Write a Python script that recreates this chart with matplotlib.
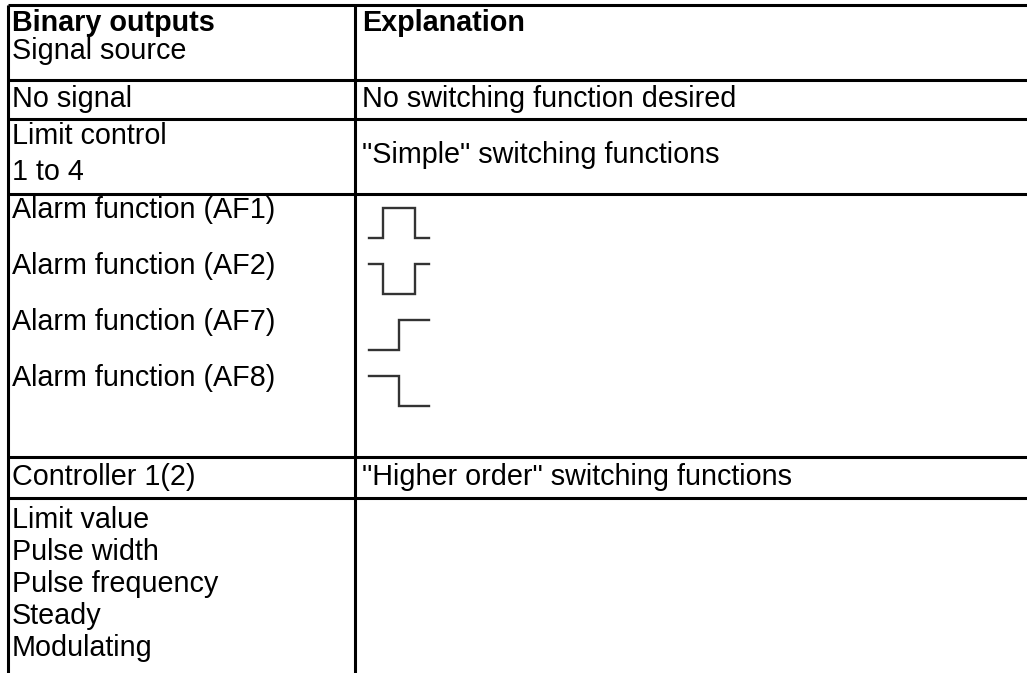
import matplotlib
matplotlib.use("Agg")
import matplotlib.pyplot as plt

# ---- data ----
header_left = ["Binary outputs", "Signal source"]
header_right = "Explanation"
row_no_signal = "No signal"
expl_no_signal = "No switching function desired"
row_limit = ["Limit control", "1 to 4"]
expl_limit = '"Simple" switching functions'
alarm_labels = ["Alarm function (AF1)", "Alarm function (AF2)",
                "Alarm function (AF7)", "Alarm function (AF8)"]
alarm_levels = [[0, 1, 0], [1, 0, 1], [0, 1], [1, 0]]
row_controller = "Controller 1(2)"
expl_controller = '"Higher order" switching functions'
controller_modes = ["Limit value", "Pulse width", "Pulse frequency",
                    "Steady", "Modulating"]

# ---- layout ----
W, H = 1027, 673
fig = plt.figure(figsize=(W / 100, H / 100), dpi=100)
ax = fig.add_axes([0, 0, 1, 1])
ax.set_xlim(0, W)
ax.set_ylim(H, 0)
ax.axis("off")

plt.rcParams['font.family'] = ['Liberation Sans', 'DejaVu Sans']
FS = 20.7
lw = 2.2
x_left, x_mid, x_right = 8, 355, W
y_top = 4.5
h_lines = [80, 119, 194, 457, 498]

ax.plot([x_left, x_right], [y_top, y_top], color="black", lw=lw, solid_capstyle="butt")
for y in h_lines:
    ax.plot([x_left, x_right], [y, y], color="black", lw=lw, solid_capstyle="butt")
ax.plot([x_left, x_left], [y_top, H], color="black", lw=lw, solid_capstyle="butt")
ax.plot([x_mid, x_mid], [y_top, H], color="black", lw=lw, solid_capstyle="butt")

tx_l, tx_r = 12, 362

def txt(x, y, s, bold=False):
    ax.text(x, y, s, fontsize=FS, va="baseline", ha="left",
            fontweight="bold" if bold else "normal", color="black")

# header
txt(tx_l, 31, header_left[0], bold=True)
txt(tx_l, 59, header_left[1])
txt(tx_r, 31, header_right, bold=True)

# no signal
txt(tx_l, 107, row_no_signal)
txt(tx_r, 107, expl_no_signal)

# limit control
txt(tx_l, 144, row_limit[0])
txt(tx_l, 180, row_limit[1])
txt(tx_r, 163, expl_limit)

# alarm functions
y0, dy = 218, 56
wx0, wx1 = 369, 429
amp = 30
for i, (lab, lev) in enumerate(zip(alarm_labels, alarm_levels)):
    yb = y0 + i * dy
    txt(tx_l, yb, lab)
    low = yb + 20
    n = len(lev)
    if n == 3:
        edges = [0, 0.24, 0.76, 1]
    else:
        edges = [0, 0.5, 1]
    xs, ys = [], []
    for k, v in enumerate(lev):
        xa = wx0 + edges[k] * (wx1 - wx0)
        xb = wx0 + edges[k + 1] * (wx1 - wx0)
        yy = low - v * amp
        xs += [xa, xb]
        ys += [yy, yy]
    ax.plot(xs, ys, color="#333333", lw=1.7, solid_joinstyle="miter")

# controller
txt(tx_l, 485, row_controller)
txt(tx_r, 485, expl_controller)
for j, m in enumerate(controller_modes):
    txt(tx_l, 528 + j * 32, m)

fig.savefig("out.png", dpi=100)
